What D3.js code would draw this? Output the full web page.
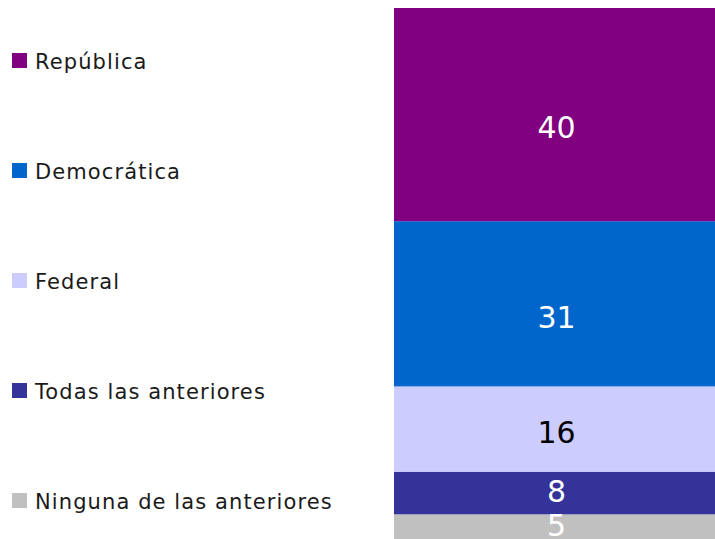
<!DOCTYPE html>
<html>
<head>
<meta charset="utf-8">
<script src="https://cdn.jsdelivr.net/npm/d3@7"></script>
<style>
  body { margin: 0; background: #fff; }
  svg { display: block; font-family: "DejaVu Sans", sans-serif; }
</style>
</head>
<body>
<svg id="chart" width="715" height="539"></svg>
<script>
// stacked from top to bottom
var categories = ["República", "Democrática", "Federal", "Todas las anteriores", "Ninguna de las anteriores"];
var values = [40, 31, 16, 8, 5];
var colors = ["#800080", "#0066CC", "#CCCCFF", "#333399", "#C0C0C0"];
var labelColors = ["#fff", "#fff", "#000", "#fff", "#fff"];

var svg = d3.select("#chart"),
    width = +svg.attr("width"),
    height = +svg.attr("height"),
    // bar runs slightly past the bottom edge, like the original
    margin = {top: 8, left: 394, right: 0, bottom: -2};

// build stack (bottom segment = last category)
var acc = 0;
var segs = [];
for (var i = values.length - 1; i >= 0; i--) {
    segs.push({name: categories[i], value: values[i], y0: acc, y1: acc + values[i], color: colors[i], label: labelColors[i]});
    acc += values[i];
}

var y = d3.scaleLinear()
    .domain([0, d3.sum(values)])
    .range([height - margin.bottom, margin.top]);

var x = d3.scaleBand()
    .domain(["total"])
    .range([margin.left, width - margin.right])
    .padding(0);

var g = svg.append("g");

g.selectAll("rect.seg")
    .data(segs)
    .enter()
    .append("rect")
    .attr("class", "seg")
    .attr("x", x("total"))
    .attr("width", x.bandwidth())
    .attr("y", function(d) { return y(d.y1); })
    .attr("height", function(d) { return y(d.y0) - y(d.y1); })
    .attr("fill", function(d) { return d.color; });

g.selectAll("text.val")
    .data(segs)
    .enter()
    .append("text")
    .attr("class", "val")
    .attr("x", x("total") + x.bandwidth() / 2 + 2)
    .attr("y", function(d) {
        var h = y(d.y0) - y(d.y1);
        var mid = (y(d.y0) + y(d.y1)) / 2;
        // labels in the big segments sit a little below the middle
        var shift = Math.max(-2, Math.min(13, (h - 60) * 0.13));
        return mid + shift;
    })
    .attr("dy", "0.36em")
    .attr("text-anchor", "middle")
    .attr("font-size", 30)
    .attr("fill", function(d) { return d.label; })
    .text(function(d) { return d.value; });

// legend
var ly = d3.scalePoint()
    .domain(categories)
    .range([61, 501]);

var legend = svg.append("g").attr("class", "legend");

var items = legend.selectAll("g")
    .data(categories)
    .enter()
    .append("g")
    .attr("transform", function(d) { return "translate(12," + ly(d) + ")"; });

items.append("rect")
    .attr("x", 0)
    .attr("y", -8)
    .attr("width", 15)
    .attr("height", 15)
    .attr("fill", function(d, i) { return colors[i]; });

items.append("text")
    .attr("x", 23)
    .attr("y", 0)
    .attr("dy", "0.36em")
    .attr("font-size", 21)
    .attr("letter-spacing", 1.1)
    .attr("fill", "#1a1a1a")
    .text(function(d) { return d; });
</script>
</body>
</html>
